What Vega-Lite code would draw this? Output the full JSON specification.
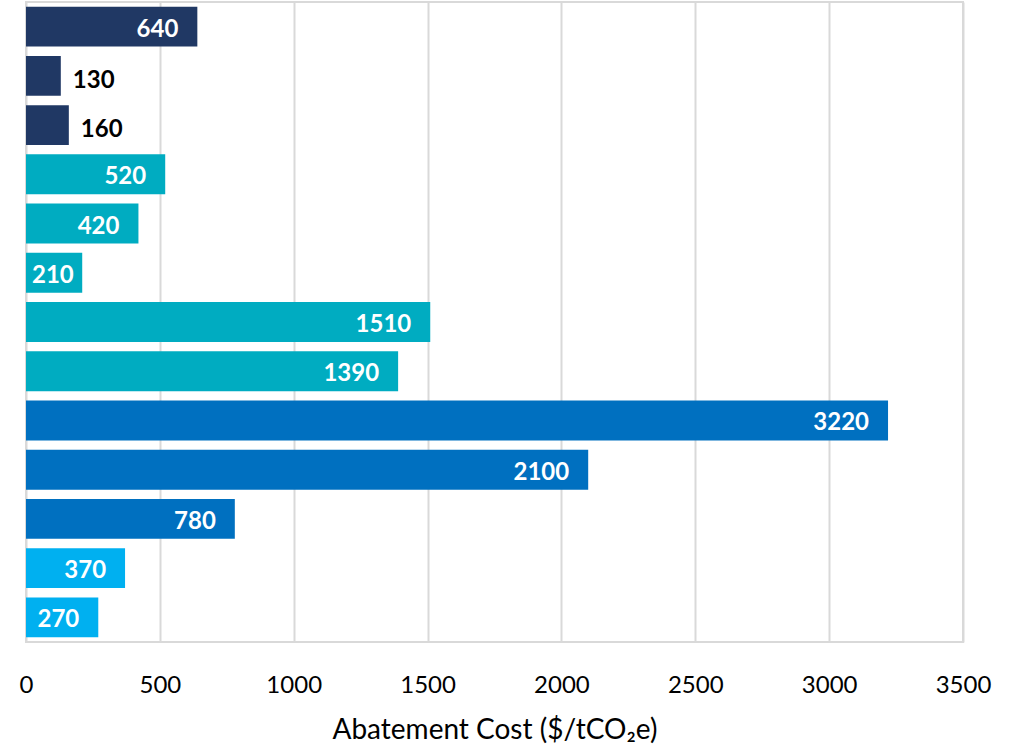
{
  "$schema": "https://vega.github.io/schema/vega-lite/v6.json",
  "autosize": {"type": "none"},
  "width": 937,
  "height": 640,
  "padding": {"left": 26, "top": 2, "right": 51, "bottom": 103},
  "background": "white",
  "config": {
    "font": "Lato",
    "view": {"stroke": "#d9d9d9", "strokeWidth": 2}
  },
  "data": {
    "values": [
      {"measure": "Measure 1", "group": "G1", "cost": 640},
      {"measure": "Measure 2", "group": "G1", "cost": 130},
      {"measure": "Measure 3", "group": "G1", "cost": 160},
      {"measure": "Measure 4", "group": "G2", "cost": 520},
      {"measure": "Measure 5", "group": "G2", "cost": 420},
      {"measure": "Measure 6", "group": "G2", "cost": 210},
      {"measure": "Measure 7", "group": "G2", "cost": 1510},
      {"measure": "Measure 8", "group": "G2", "cost": 1390},
      {"measure": "Measure 9", "group": "G3", "cost": 3220},
      {"measure": "Measure 10", "group": "G3", "cost": 2100},
      {"measure": "Measure 11", "group": "G3", "cost": 780},
      {"measure": "Measure 12", "group": "G4", "cost": 370},
      {"measure": "Measure 13", "group": "G4", "cost": 270}
    ]
  },
  "encoding": {
    "y": {
      "field": "measure",
      "type": "nominal",
      "sort": null,
      "axis": null,
      "scale": {"paddingInner": 0.19, "paddingOuter": 0.095}
    }
  },
  "layer": [
    {
      "mark": {"type": "bar"},
      "encoding": {
        "x": {
          "field": "cost",
          "type": "quantitative",
          "scale": {"domain": [0, 3500], "nice": false},
          "axis": {
            "values": [0, 500, 1000, 1500, 2000, 2500, 3000, 3500],
            "format": "d",
            "title": "Abatement Cost ($/tCO₂e)",
            "domain": false,
            "ticks": false,
            "grid": true,
            "gridColor": "#d9d9d9",
            "gridWidth": 2,
            "labelFontSize": 24,
            "labelColor": "#000000",
            "labelPadding": 31,
            "labelFlush": false,
            "labelFont": "Lato",
            "titleFont": "Lato",
            "titleFontSize": 28,
            "titleFontWeight": "normal",
            "titleColor": "#000000",
            "titlePadding": 19
          }
        },
        "color": {
          "field": "group",
          "type": "nominal",
          "legend": null,
          "scale": {
            "domain": ["G1", "G2", "G3", "G4"],
            "range": ["#203864", "#00ACC1", "#0070C0", "#00B0F0"]
          }
        }
      }
    },
    {
      "transform": [{"filter": "datum.cost >= 250"}],
      "mark": {"type": "text", "align": "right", "baseline": "middle", "dx": -19, "dy": 3, "fontSize": 24, "fontWeight": "bold", "color": "white", "font": "Lato"},
      "encoding": {
        "x": {"field": "cost", "type": "quantitative"},
        "text": {"field": "cost", "type": "quantitative"}
      }
    },
    {
      "transform": [{"filter": "datum.cost >= 200 && datum.cost < 250"}],
      "mark": {"type": "text", "align": "left", "baseline": "middle", "dx": 6, "dy": 3, "fontSize": 24, "fontWeight": "bold", "color": "white", "font": "Lato"},
      "encoding": {
        "x": {"datum": 0, "type": "quantitative"},
        "text": {"field": "cost", "type": "quantitative"}
      }
    },
    {
      "transform": [{"filter": "datum.cost < 200"}],
      "mark": {"type": "text", "align": "left", "baseline": "middle", "dx": 12, "dy": 5, "fontSize": 24, "fontWeight": "bold", "color": "black", "font": "Lato"},
      "encoding": {
        "x": {"field": "cost", "type": "quantitative"},
        "text": {"field": "cost", "type": "quantitative"}
      }
    }
  ]
}
